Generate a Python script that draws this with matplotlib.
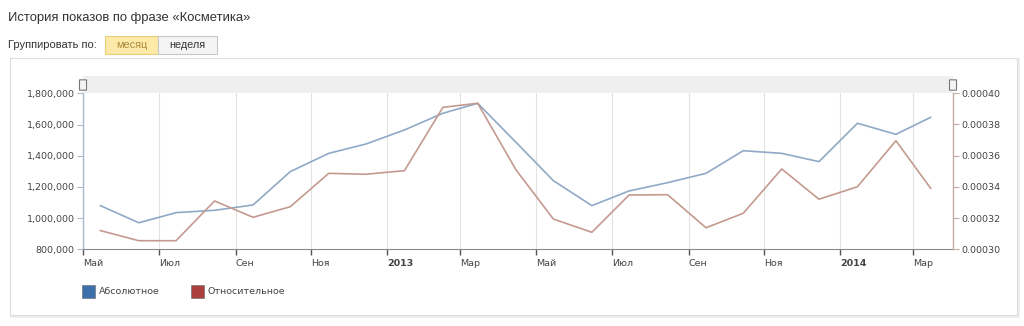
import datetime as dt

import matplotlib
matplotlib.use("Agg")
import matplotlib.pyplot as plt
from matplotlib.patches import Rectangle, FancyBboxPatch
from matplotlib.ticker import FuncFormatter
import matplotlib.transforms as mtransforms

# months shown (year, month), one point per month
months = [(2012, m) for m in range(5, 13)] + [(2013, m) for m in range(1, 13)] + [(2014, m) for m in range(1, 4)]

absolute = [1080000, 970000, 1035000, 1050000, 1084000, 1298000, 1415000, 1475000,
            1565000, 1672000, 1736000, 1485000, 1240000, 1080000, 1174000, 1227000,
            1287000, 1432000, 1415000, 1362000, 1608000, 1537000, 1646000]

relative = [0.000312, 0.0003055, 0.0003055, 0.000331, 0.0003205, 0.0003273, 0.0003487, 0.0003481,
            0.0003504, 0.000391, 0.0003936, 0.0003508, 0.0003194, 0.0003109, 0.0003348, 0.000335,
            0.0003138, 0.0003231, 0.0003515, 0.0003321, 0.0003401, 0.0003696, 0.0003391]

tick_months = [(2012, 5), (2012, 7), (2012, 9), (2012, 11), (2013, 1), (2013, 3), (2013, 5),
               (2013, 7), (2013, 9), (2013, 11), (2014, 1), (2014, 3)]
tick_labels = ["Май", "Июл", "Сен", "Ноя", "2013", "Мар", "Май", "Июл", "Сен", "Ноя", "2014", "Мар"]

series_names = ["Абсолютное", "Относительное"]

W, H = 1024, 326
fig = plt.figure(figsize=(W / 100, H / 100), dpi=100)
fig.patch.set_facecolor("white")


def fx(px):
    return px / W


def fy(py):
    return 1 - py / H


def box(x0, y0, w, h, **kw):
    # rectangle in pixel coords (top-left origin)
    r = Rectangle((fx(x0), fy(y0 + h)), fx(w), h / H, transform=fig.transFigure, **kw)
    fig.patches.append(r)
    return r


# header
fig.text(fx(8), fy(18), "История показов по фразе «Косметика»", fontsize=9.4,
         family="Liberation Sans", color="#333333", va="center")
fig.text(fx(8), fy(45), "Группировать по:", fontsize=8.0,
         family="Liberation Sans", color="#333333", va="center")
box(105, 36, 53, 18, facecolor="#fdeaa8", edgecolor="#e6cf7a", linewidth=0.8, zorder=-5)
box(158, 36, 59, 18, facecolor="#f4f4f4", edgecolor="#c8c8c8", linewidth=0.8, zorder=-5)
fig.text(fx(131.5), fy(45), "месяц", fontsize=7.8, family="Liberation Sans",
         color="#a88a3c", ha="center", va="center")
fig.text(fx(187.5), fy(45), "неделя", fontsize=7.8, family="Liberation Sans",
         color="#333333", ha="center", va="center")

# panel frame
box(11, 59, 1007, 257, facecolor="none", edgecolor="#ececec", linewidth=2.0, zorder=-6)
box(10, 58, 1007, 257, facecolor="white", edgecolor="#dddddd", linewidth=0.8, zorder=-5)

# scrollbar band above the plot
box(83, 76, 870, 17.3, facecolor="#efefef", edgecolor="none", zorder=-4)

ax = fig.add_axes([fx(83), fy(249.3), fx(870), (249.3 - 93.3) / H])
ax2 = ax.twinx()
ax.set_zorder(1)
ax2.set_zorder(2)

for hx in (83, 953):
    p = FancyBboxPatch((fx(hx - 3), fy(90)), fx(6), 10 / H,
                       boxstyle="round,pad=0.0005", transform=fig.transFigure,
                       facecolor="#f4f4f4", edgecolor="#777777", linewidth=0.8, zorder=10)
    fig.patches.append(p)

dates = [dt.date(y, m, 15) for y, m in months]
tick_dates = [dt.date(y, m, 1) for y, m in tick_months]

blue_line = "#8fa9c6"
red_line = "#c49a90"

ax.plot(dates, absolute, color=blue_line, linewidth=1.2, zorder=3)
ax2.plot(dates, relative, color=red_line, linewidth=1.2, zorder=3)

ax.set_xlim(dt.date(2012, 5, 1), dt.date(2014, 4, 2))
ax.set_ylim(800000, 1800000)
ax2.set_ylim(0.0003, 0.0004)

ax.set_yticks([800000, 1000000, 1200000, 1400000, 1600000, 1800000])
ax.yaxis.set_major_formatter(FuncFormatter(lambda v, p: f"{int(round(v)):,}"))
ax2.set_yticks([0.0003, 0.00032, 0.00034, 0.00036, 0.00038, 0.0004])
ax2.yaxis.set_major_formatter(FuncFormatter(lambda v, p: f"{v:.5f}"))

ax.set_xticks(tick_dates)
ax.set_xticklabels(tick_labels)
offset = mtransforms.ScaledTranslation(2 / 100, 0, fig.dpi_scale_trans)
for lbl in ax.get_xticklabels():
    lbl.set_horizontalalignment("left")
    lbl.set_transform(lbl.get_transform() + offset)
    if lbl.get_text().isdigit():
        lbl.set_fontweight("bold")
        lbl.set_color("#222222")

ax.grid(axis="x", color="#e3e3e3", linewidth=0.8)
ax.set_axisbelow(True)

for a in (ax, ax2):
    a.spines["top"].set_visible(False)
    a.set_facecolor("none")
ax.spines["right"].set_visible(False)
ax2.spines["left"].set_visible(False)
ax2.spines["bottom"].set_visible(False)
ax.spines["left"].set_color("#a9b9c9")
ax2.spines["right"].set_color("#c4aca4")
ax.spines["bottom"].set_color("#888888")
ax.spines["left"].set_linewidth(1.0)
ax2.spines["right"].set_linewidth(1.0)

ax.tick_params(axis="x", direction="out", length=4, width=1, color="#555555",
               labelsize=6.8, labelcolor="#444444", pad=3)
ax.tick_params(axis="y", direction="out", length=4, width=0.8, color="#a9b9c9",
               labelsize=6.8, labelcolor="#444444", pad=2)
ax2.tick_params(axis="y", direction="out", length=4, width=0.8, color="#c4aca4",
                labelsize=6.8, labelcolor="#444444", pad=2)

# legend
legend_colors = ["#3d6fab", "#a9403d"]
legend_x = [82, 191]
for name, c, lx in zip(series_names, legend_colors, legend_x):
    box(lx, 285, 13, 13, facecolor=c, edgecolor="#777777", linewidth=0.5, zorder=3)
    fig.text(fx(lx + 17), fy(291.5), name, fontsize=6.8, color="#444444", va="center")

fig.savefig("out.png", dpi=100)
